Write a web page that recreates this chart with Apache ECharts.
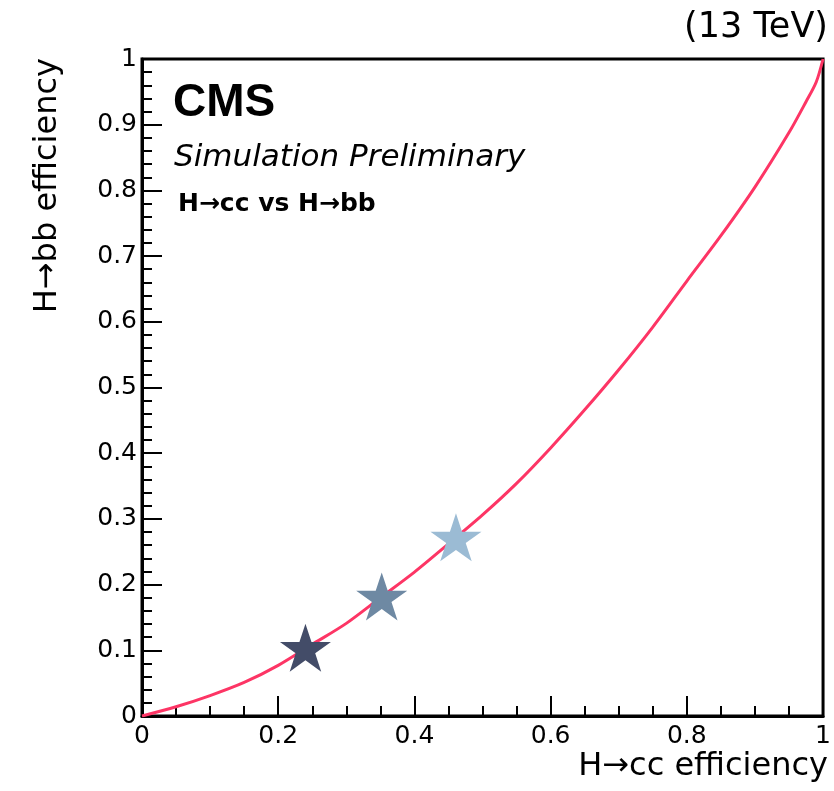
<!DOCTYPE html>
<html>
<head>
<meta charset="utf-8">
<script src="https://cdn.jsdelivr.net/npm/echarts@6/dist/echarts.min.js"></script>
<style>
  html, body { margin: 0; padding: 0; background: #fff; }
  #chart { width: 834px; height: 791px; }
</style>
</head>
<body>
<div id="chart"></div>
<script>
// ROC-style curve: H->cc efficiency (x) vs H->bb efficiency (y)
const ccEff = [0, 0.05, 0.1, 0.15, 0.2, 0.25, 0.3, 0.35, 0.4, 0.45, 0.5, 0.55, 0.6, 0.65, 0.7, 0.75, 0.8, 0.85, 0.9, 0.95, 0.975, 0.99, 1];
const bbEff = [0, 0.014, 0.031, 0.051, 0.077, 0.109, 0.141, 0.18, 0.219, 0.262, 0.306, 0.354, 0.408, 0.466, 0.527, 0.592, 0.662, 0.731, 0.805, 0.888, 0.935, 0.965, 1];

// working points (stars)
const starCc = [0.24, 0.352, 0.461];
const starBb = [0.104, 0.182, 0.272];
const starColors = ["#434c68", "#6e89a3", "#9bbbd4"];

const xTicks = [0, 0.2, 0.4, 0.6, 0.8, 1];
const yTicks = [0, 0.1, 0.2, 0.3, 0.4, 0.5, 0.6, 0.7, 0.8, 0.9, 1];

const STAR = "path://M50,0L61.23,34.55L97.55,34.55L68.17,55.9L79.39,90.45L50,69.1L20.61,90.45L31.83,55.9L2.45,34.55L38.77,34.55Z";
const FONT = "DejaVu Sans";

const chart = echarts.init(document.getElementById("chart"));

const fmt = (v) => String(+Number(v).toFixed(2));

const option = {
  backgroundColor: "#fff",
  animation: false,
  grid: {
    left: 142, right: 6, top: 59, bottom: 75,
    show: true, borderColor: "#000", borderWidth: 3,
    containLabel: false
  },
  xAxis: {
    type: "value",
    min: xTicks[0], max: xTicks[xTicks.length - 1], interval: 0.2,
    axisLine: { show: true, lineStyle: { color: "#000", width: 3 } },
    axisTick: { show: true, inside: true, length: 20, lineStyle: { color: "#000", width: 2 } },
    minorTick: { show: true, splitNumber: 4, length: 10, lineStyle: { color: "#000", width: 2 } },
    splitLine: { show: false },
    axisLabel: { color: "#000", fontFamily: FONT, fontSize: 25, margin: 8, formatter: fmt }
  },
  yAxis: {
    type: "value",
    min: yTicks[0], max: yTicks[yTicks.length - 1], interval: 0.1,
    axisLine: { show: true, lineStyle: { color: "#000", width: 3 } },
    axisTick: { show: true, inside: true, length: 20, lineStyle: { color: "#000", width: 2 } },
    minorTick: { show: true, splitNumber: 5, length: 10, lineStyle: { color: "#000", width: 2 } },
    splitLine: { show: false },
    axisLabel: { color: "#000", fontFamily: FONT, fontSize: 25, margin: 5, formatter: fmt }
  },
  series: [
    {
      type: "line",
      data: ccEff.map((x, i) => [x, bbEff[i]]),
      showSymbol: false,
      smooth: 0.3,
      lineStyle: { color: "#fd3565", width: 3 },
      z: 2
    },
    {
      type: "scatter",
      data: starCc.map((x, i) => [x, starBb[i]]),
      symbol: STAR,
      symbolSize: [51, 48],
      itemStyle: { color: (p) => starColors[p.dataIndex], opacity: 1 },
      z: 3
    }
  ],
  graphic: [
    { type: "text", x: 828, y: 28, style: { text: "(13 TeV)", font: "35px '" + FONT + "'", fill: "#000", align: "right", verticalAlign: "middle" } },
    { type: "text", x: 173, y: 103, style: { text: "CMS", font: "bold 46px 'Liberation Sans'", fill: "#000", align: "left", verticalAlign: "middle" } },
    { type: "text", x: 174, y: 158, style: { text: "Simulation Preliminary", font: "oblique 31px '" + FONT + "'", fill: "#000", align: "left", verticalAlign: "middle" } },
    { type: "text", x: 178, y: 204, style: { text: "H→cc vs H→bb", font: "bold 25px '" + FONT + "'", fill: "#000", align: "left", verticalAlign: "middle" } },
    { type: "text", x: 828, y: 767, style: { text: "H→cc efficiency", font: "32px '" + FONT + "'", fill: "#000", align: "right", verticalAlign: "middle" } },
    { type: "text", x: 48, y: 58, rotation: Math.PI / 2, style: { text: "H→bb efficiency", font: "32px '" + FONT + "'", fill: "#000", align: "right", verticalAlign: "middle" } }
  ]
};

chart.setOption(option);
window.addEventListener("resize", () => chart.resize());
</script>
</body>
</html>
